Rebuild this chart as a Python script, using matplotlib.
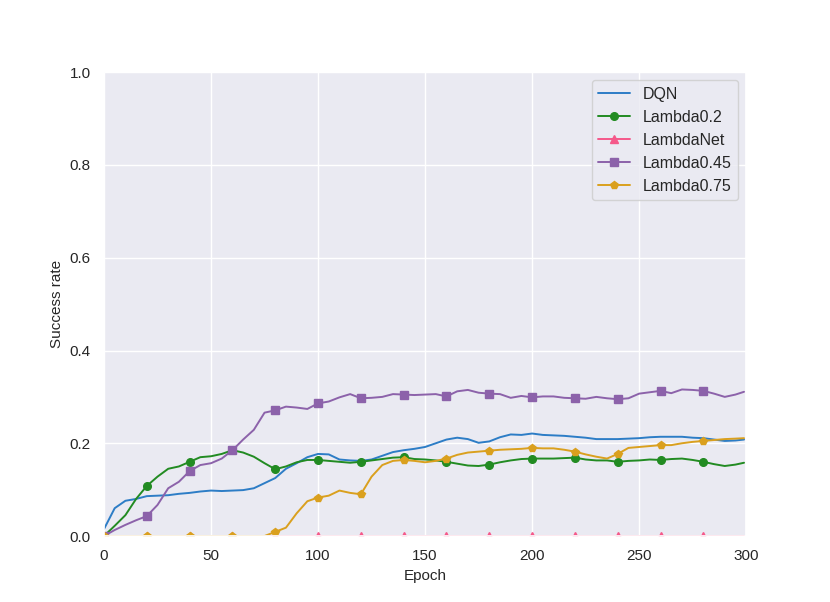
import numpy as np
import matplotlib
matplotlib.use("Agg")
import matplotlib.pyplot as plt
import seaborn as sns

sns.set_theme(style="darkgrid")
plt.rcParams["font.family"] = ["Liberation Sans", "DejaVu Sans"]

# sampled epochs (every 5, last one at 299)
epochs = list(range(0, 300, 5)) + [299]

dqn = [0.015, 0.060, 0.076, 0.080, 0.086, 0.087, 0.088, 0.091, 0.093, 0.096,
       0.098, 0.097, 0.098, 0.099, 0.103, 0.114, 0.125, 0.145, 0.157, 0.170,
       0.177, 0.176, 0.165, 0.163, 0.162, 0.165, 0.173, 0.181, 0.185, 0.188,
       0.192, 0.200, 0.208, 0.212, 0.209, 0.201, 0.204, 0.213, 0.219, 0.218,
       0.221, 0.218, 0.217, 0.216, 0.214, 0.212, 0.209, 0.209, 0.209, 0.210,
       0.211, 0.213, 0.214, 0.214, 0.214, 0.212, 0.211, 0.208, 0.205, 0.206,
       0.208]

lambda02 = [0.000, 0.022, 0.045, 0.080, 0.108, 0.128, 0.145, 0.150, 0.160, 0.170,
            0.172, 0.177, 0.185, 0.180, 0.171, 0.157, 0.144, 0.150, 0.159, 0.164,
            0.164, 0.162, 0.160, 0.158, 0.160, 0.163, 0.166, 0.169, 0.170, 0.166,
            0.165, 0.163, 0.160, 0.156, 0.152, 0.151, 0.154, 0.159, 0.163, 0.166,
            0.167, 0.167, 0.167, 0.168, 0.169, 0.165, 0.163, 0.163, 0.160, 0.162,
            0.163, 0.165, 0.164, 0.166, 0.167, 0.164, 0.160, 0.155, 0.151, 0.154,
            0.158]

lambda_net = [0.0] * 61

lambda045 = [0.000, 0.013, 0.024, 0.034, 0.043, 0.067, 0.103, 0.117, 0.140, 0.153,
             0.157, 0.167, 0.185, 0.208, 0.229, 0.266, 0.271, 0.279, 0.277, 0.274,
             0.286, 0.290, 0.299, 0.306, 0.297, 0.298, 0.300, 0.306, 0.305, 0.304,
             0.305, 0.306, 0.301, 0.312, 0.315, 0.309, 0.307, 0.306, 0.298, 0.302,
             0.299, 0.301, 0.301, 0.298, 0.297, 0.296, 0.300, 0.297, 0.295, 0.297,
             0.307, 0.310, 0.313, 0.308, 0.316, 0.315, 0.313, 0.307, 0.300, 0.305,
             0.311]

lambda075 = [0.000, 0.000, 0.000, 0.000, 0.000, 0.000, 0.000, 0.000, 0.000, 0.000,
             0.000, 0.000, 0.000, 0.000, 0.000, 0.000, 0.009, 0.018, 0.049, 0.075,
             0.083, 0.087, 0.098, 0.093, 0.090, 0.128, 0.153, 0.162, 0.164, 0.162,
             0.159, 0.162, 0.167, 0.175, 0.180, 0.182, 0.184, 0.186, 0.187, 0.188,
             0.190, 0.189, 0.189, 0.186, 0.182, 0.176, 0.171, 0.167, 0.177, 0.190,
             0.192, 0.194, 0.196, 0.196, 0.200, 0.203, 0.205, 0.207, 0.209, 0.210,
             0.211]

series = [
    ("DQN", dqn, "#2d7dc6", None),
    ("Lambda0.2", lambda02, "#228b22", "o"),
    ("LambdaNet", lambda_net, "#f5588a", "^"),
    ("Lambda0.45", lambda045, "#8c62aa", "s"),
    ("Lambda0.75", lambda075, "#daa01e", "p"),
]

fig, ax = plt.subplots(figsize=(8.3, 6.02), dpi=100)
fig.subplots_adjust(left=0.1253, right=0.899, bottom=0.1096, top=0.880)

# a marker every 20 epochs, none at the end
marks = list(range(0, 60, 4))
for name, vals, col, mk in series:
    ax.plot(epochs, vals, color=col, lw=1.4, label=name,
            marker=mk, markevery=marks, markersize=5.5)

ax.set_xlim(0, 300)
ax.set_ylim(0, 1.0)
ax.set_xlabel("Epoch", fontsize=11)
ax.set_ylabel("Success rate", fontsize=11)
ax.tick_params(labelsize=11)
ax.legend(loc="upper right", fontsize=11.5)

fig.savefig("out.png", dpi=100)
